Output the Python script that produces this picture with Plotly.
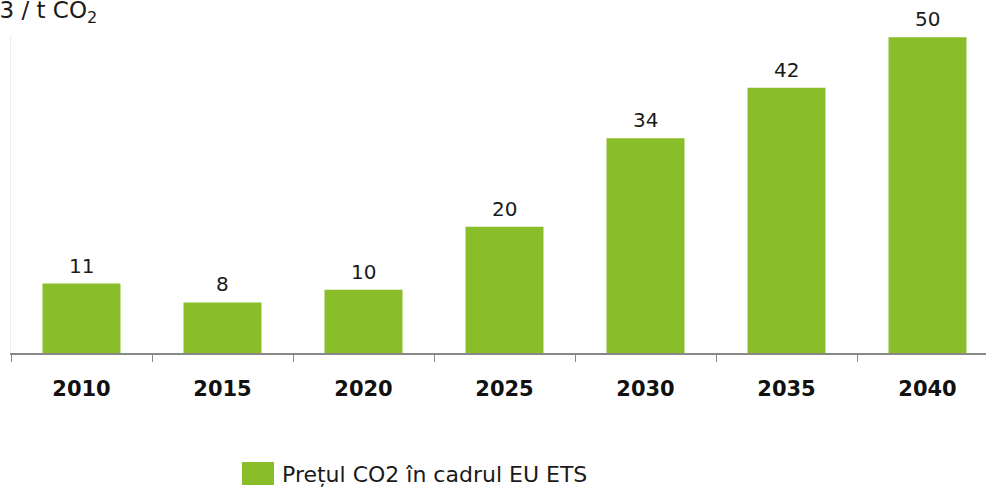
import plotly.graph_objects as go

years = ["2010", "2015", "2020", "2025", "2030", "2035", "2040"]
prices = [11, 8, 10, 20, 34, 42, 50]
series_name = "Prețul CO2 în cadrul EU ETS"
y_title = "€2013 / t CO<sub>2</sub>"

BAR = "#8abd2a"
FONT = "DejaVu Sans"

W, H = 986, 488
L, R, T, B = 11, 0, 36, 488 - 353
pw = W - L - R
ph = H - T - B


def px(xs):
    return (xs - L) / pw


def py(ys):
    return (H - B - ys) / ph


fig = go.Figure()
fig.add_trace(go.Bar(x=years, y=prices, marker=dict(color=BAR, line=dict(width=0)),
                     name=series_name, showlegend=False, hoverinfo="x+y"))

for i, v in enumerate(prices):
    fig.add_annotation(x=i, y=v, text=str(v), showarrow=False, yanchor="bottom",
                       yshift=4, font=dict(family=FONT, size=20, color="#1a1a1a"))

fig.update_layout(
    width=W, height=H,
    margin=dict(l=L, r=R, t=T, b=B, pad=0),
    paper_bgcolor="white", plot_bgcolor="white",
    bargap=0.447,
    font=dict(family=FONT, color="#222222"),
    showlegend=False,
)
fig.update_xaxes(
    type="category", range=[-0.5, -0.5 + pw / 141.0],
    showline=True, linecolor="#888888", linewidth=2,
    ticks="outside", tickson="boundaries", ticklen=7, tickcolor="#888888", tickwidth=1,
    tickfont=dict(family=FONT, size=21, color="#111111", weight="bold"),
    ticklabelstandoff=16, showgrid=False, zeroline=False,
)
fig.update_yaxes(
    range=[0, 50.2], showline=True, linecolor="#eeeeee", linewidth=1,
    showticklabels=False, ticks="", showgrid=False, zeroline=False,
)

# axis unit label (partly cut at the left edge as in the original)
fig.add_annotation(xref="paper", yref="paper", x=px(99), y=py(12),
                   xanchor="right", yanchor="middle", text=y_title, showarrow=False,
                   font=dict(family=FONT, size=23, color="#1a1a1a"))

# legend drawn manually
fig.add_shape(type="rect", xref="paper", yref="paper",
              x0=px(242), x1=px(274), y0=py(485), y1=py(462),
              fillcolor=BAR, line=dict(width=0))
fig.add_annotation(xref="paper", yref="paper", x=px(280), y=py(474),
                   xanchor="left", yanchor="middle", text=series_name, showarrow=False,
                   font=dict(family=FONT, size=22, color="#1a1a1a"))

fig.write_html("out.html", config={"displayModeBar": False},
               post_script="document.body.style.margin='0px';")
